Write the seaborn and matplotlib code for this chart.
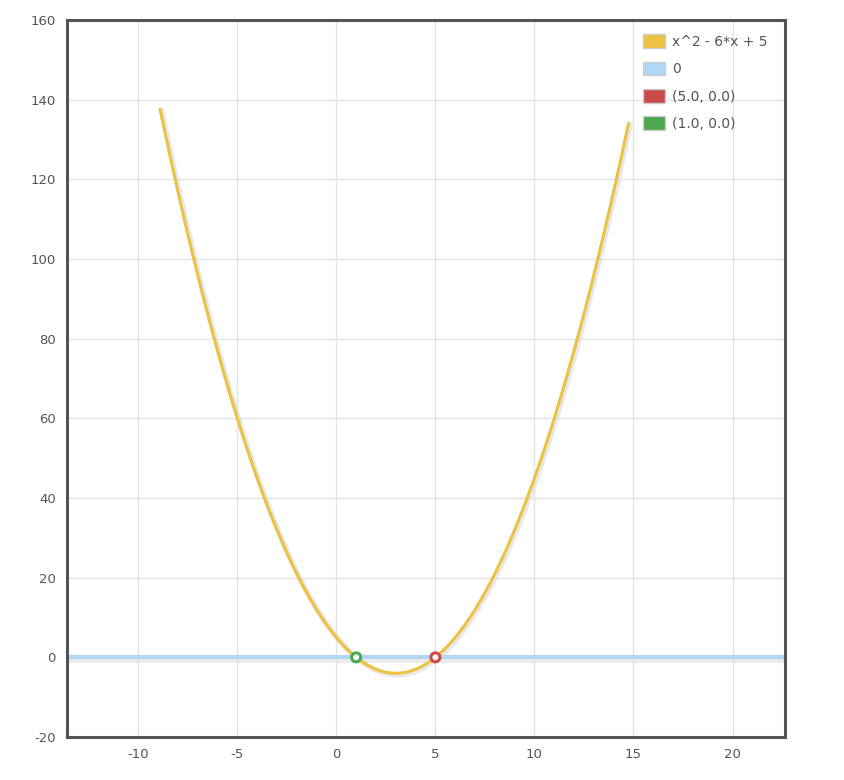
import numpy as np
import pandas as pd
import matplotlib
matplotlib.use("Agg")
import matplotlib.pyplot as plt
from matplotlib.patches import Patch
import seaborn as sns

# function shown in the legend: x^2 - 6*x + 5, plotted from about -8.9 to 14.75
coeffs = [1, -6, 5]
x_start, x_end = -8.9, 14.75
zero_line_x = [-13.6, 22.65]
zero_line_y = [0, 0]
root_x = [5.0, 1.0]
root_y = [0.0, 0.0]

labels = ["x^2 - 6*x + 5", "0", "(5.0, 0.0)", "(1.0, 0.0)"]
colors = ["#edc240", "#afd8f8", "#cb4b4b", "#4da74d"]

x_ticks = [-10, -5, 0, 5, 10, 15, 20]
y_ticks = [-20, 0, 20, 40, 60, 80, 100, 120, 140, 160]


def main():
    sns.set_style("white")
    plt.rcParams["font.family"] = ["DejaVu Sans"]
    plt.rcParams["axes.unicode_minus"] = False

    xs = np.linspace(x_start, x_end, 400)
    curve = pd.DataFrame({"x": xs, "y": np.polyval(coeffs, xs)})
    zero = pd.DataFrame({"x": zero_line_x, "y": zero_line_y})

    fig = plt.figure(figsize=(8.44, 7.8), dpi=100)
    ax = fig.add_axes([0.0794, 0.0551, 0.8507, 0.9193])

    ax.set_xlim(-13.6, 22.65)
    ax.set_ylim(-20, 160)
    ax.set_xticks(x_ticks)
    ax.set_yticks(y_ticks)
    ax.grid(True, color="#e3e3e3", linewidth=1)
    ax.set_axisbelow(True)

    shadow = matplotlib.transforms.ScaledTranslation(0, -2 / 100, fig.dpi_scale_trans)
    # zero line with faint shadow
    sns.lineplot(data=zero, x="x", y="y", ax=ax, color="#d8d8d8", linewidth=5,
                 alpha=0.5, transform=ax.transData + shadow)
    sns.lineplot(data=zero, x="x", y="y", ax=ax, color=colors[1], linewidth=3)

    # parabola with shadow
    shadow2 = matplotlib.transforms.ScaledTranslation(1.5 / 100, -1.5 / 100, fig.dpi_scale_trans)
    sns.lineplot(data=curve, x="x", y="y", ax=ax, color="#d9d9d9", linewidth=4, alpha=0.6,
                 sort=False, transform=ax.transData + shadow2)
    sns.lineplot(data=curve, x="x", y="y", ax=ax, color=colors[0], linewidth=2.2, sort=False)

    pts = pd.DataFrame({"x": root_x, "y": root_y, "lab": labels[2:]})
    sns.scatterplot(data=pts, x="x", y="y", hue="lab", palette=colors[2:], ax=ax,
                    s=42, linewidth=2.2, legend=False, zorder=5)
    for coll in ax.collections:
        coll.set_facecolor("white")
        coll.set_edgecolor(colors[2:])

    ax.set_xlabel("")
    ax.set_ylabel("")
    ax.tick_params(axis="both", labelsize=9.5, colors="#545454", length=0, pad=8)
    for sp in ax.spines.values():
        sp.set_color("#545454")
        sp.set_linewidth(2.2)

    handles = [Patch(facecolor=c, edgecolor="#cccccc", linewidth=1) for c in colors]
    leg = ax.legend(handles, labels, loc="upper left", bbox_to_anchor=(0.802, 0.98),
                    frameon=False, fontsize=10, handlelength=1.6, handleheight=1.15,
                    handletextpad=0.5, labelspacing=0.92, borderaxespad=0, borderpad=0)
    for t in leg.get_texts():
        t.set_color("#545454")

    fig.savefig("out.png", dpi=100)


if __name__ == "__main__":
    main()
